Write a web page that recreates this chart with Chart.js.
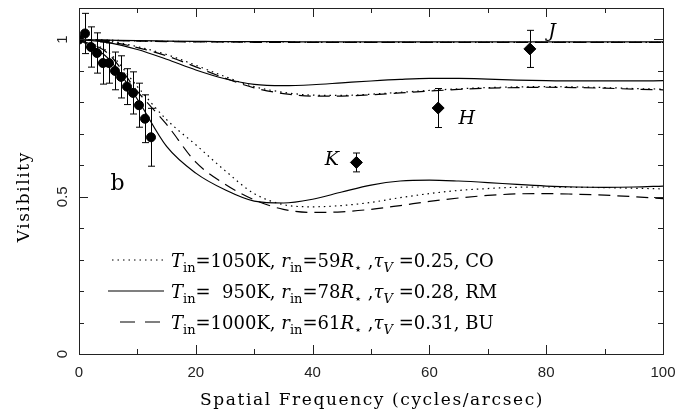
<!DOCTYPE html>
<html>
<head>
<meta charset="utf-8">
<script src="https://cdn.jsdelivr.net/npm/chart.js@4.4.1/dist/chart.umd.min.js"></script>
<style>
  html, body { margin: 0; padding: 0; background: #fff; }
  #chart { display: block; }
</style>
</head>
<body>
<canvas id="chart" width="696" height="417"></canvas>
<script>
// ---- datos ----
const freqModel = [0, 5, 10, 15, 20, 25, 30, 35, 40, 45, 50, 55, 60, 65, 70, 75, 80, 85, 90, 95, 100];

// banda J
const jSolid  = [1, 0.998, 0.996, 0.995, 0.994, 0.993, 0.993, 0.993, 0.992, 0.992, 0.992, 0.992, 0.992, 0.992, 0.992, 0.992, 0.992, 0.992, 0.992, 0.992, 0.992];
const jDotted = [1, 0.998, 0.995, 0.994, 0.993, 0.992, 0.992, 0.992, 0.991, 0.991, 0.991, 0.991, 0.991, 0.991, 0.991, 0.991, 0.991, 0.991, 0.991, 0.991, 0.991];
const jDashed = [1, 0.997, 0.995, 0.993, 0.992, 0.992, 0.991, 0.991, 0.991, 0.991, 0.991, 0.991, 0.991, 0.991, 0.991, 0.991, 0.991, 0.991, 0.991, 0.991, 0.991];

// banda H
const hSolid  = [1, 0.99, 0.968, 0.937, 0.903, 0.875, 0.857, 0.853, 0.856, 0.862, 0.868, 0.873, 0.876, 0.876, 0.874, 0.871, 0.869, 0.868, 0.868, 0.868, 0.869];
const hDotted = [1, 0.995, 0.977, 0.952, 0.918, 0.882, 0.85, 0.832, 0.823, 0.822, 0.826, 0.832, 0.838, 0.843, 0.847, 0.849, 0.85, 0.849, 0.847, 0.844, 0.842];
const hDashed = [1, 0.993, 0.974, 0.948, 0.913, 0.877, 0.846, 0.828, 0.82, 0.82, 0.824, 0.83, 0.836, 0.841, 0.845, 0.847, 0.848, 0.847, 0.845, 0.842, 0.84];

// banda K
const kSolid  = [1, 0.94, 0.81, 0.66, 0.575, 0.522, 0.486, 0.48, 0.492, 0.515, 0.537, 0.55, 0.553, 0.55, 0.545, 0.539, 0.534, 0.531, 0.53, 0.531, 0.534];
const kDotted = [1, 0.96, 0.85, 0.745, 0.665, 0.583, 0.51, 0.475, 0.468, 0.472, 0.482, 0.497, 0.51, 0.52, 0.526, 0.53, 0.531, 0.53, 0.529, 0.527, 0.525];
const kDashed = [1, 0.955, 0.835, 0.73, 0.61, 0.54, 0.49, 0.46, 0.45, 0.452, 0.46, 0.472, 0.485, 0.496, 0.504, 0.509, 0.51, 0.508, 0.505, 0.5, 0.494];

// puntos medidos (circulos)
const dotFreq = [0, 1.03, 2.05, 3.08, 4.1, 5.13, 6.16, 7.2, 8.22, 9.25, 10.27, 11.3, 12.33];
const dotVis  = [1.0, 1.019, 0.976, 0.957, 0.925, 0.925, 0.9, 0.881, 0.85, 0.83, 0.791, 0.748, 0.689];
const dotErr  = [0, 0.064, 0.064, 0.064, 0.067, 0.064, 0.06, 0.067, 0.057, 0.067, 0.07, 0.076, 0.092];

// puntos J, H, K (rombos)
const bandNames = ['K', 'H', 'J'];
const bandFreq  = [47.5, 61.5, 77.2];
const bandVis   = [0.609, 0.782, 0.97];
const bandErr   = [0.03, 0.062, 0.059];

const xTicks = [0, 20, 40, 60, 80, 100];
const yLabels = [0, 0.5, 1];
const xTitle = 'Spatial Frequency (cycles/arcsec)';
const yTitle = 'Visibility';

const SERIF = '"DejaVu Serif", serif';
const SANS = '"Liberation Sans", sans-serif';

const toXY = (xs, ys) => xs.map((x, i) => ({ x: x, y: ys[i] }));

const lineDs = (ys, dash) => ({
    data: toXY(freqModel, ys),
    showLine: true,
    borderColor: '#000',
    borderWidth: 1.2,
    borderDash: dash,
    pointRadius: 0,
    cubicInterpolationMode: 'monotone',
    fill: false
});

const DOT = [1.5, 4];
const DASH = [12, 7];

// barras de error
const errorBars = {
    id: 'errorBars',
    afterDatasetsDraw(chart) {
        const { ctx, scales: { x, y } } = chart;
        ctx.save();
        ctx.strokeStyle = '#000';
        ctx.lineWidth = 1;
        const draw = (xs, ys, es) => {
            xs.forEach((fx, i) => {
                if (!es[i]) return;
                const px = Math.round(x.getPixelForValue(fx)) + 0.5;
                const top = y.getPixelForValue(ys[i] + es[i]);
                const bot = y.getPixelForValue(ys[i] - es[i]);
                ctx.beginPath();
                ctx.moveTo(px, top); ctx.lineTo(px, bot);
                ctx.moveTo(px - 3.5, top); ctx.lineTo(px + 3.5, top);
                ctx.moveTo(px - 3.5, bot); ctx.lineTo(px + 3.5, bot);
                ctx.stroke();
            });
        };
        draw(dotFreq, dotVis, dotErr);
        draw(bandFreq, bandVis, bandErr);
        ctx.restore();
    }
};

// texto con subindices
function drawRich(ctx, x, y, parts) {
    parts.forEach(p => {
        const size = p.sub ? 13 : 18;
        ctx.font = (p.italic ? 'italic ' : '') + size + 'px ' + (p.sym ? '"DejaVu Sans", sans-serif' : SERIF);
        const dy = p.sub ? 5 : 0;
        ctx.fillText(p.t, x, y + dy);
        x += ctx.measureText(p.t).width;
    });
}

// marco, ticks interiores, titulos, etiquetas y leyenda
const decor = {
    id: 'decor',
    afterDraw(chart) {
        const { ctx, chartArea: a, scales: { x, y } } = chart;
        ctx.save();
        ctx.strokeStyle = '#222';
        ctx.lineWidth = 1;
        ctx.strokeRect(Math.round(a.left) + 0.5, Math.round(a.top) + 0.5,
            Math.round(a.right - a.left), Math.round(a.bottom - a.top));
        ctx.beginPath();
        for (let v = 0; v <= 100; v += 10) {
            const px = Math.round(x.getPixelForValue(v)) + 0.5;
            const len = v % 20 === 0 ? 9 : 5;
            ctx.moveTo(px, a.bottom); ctx.lineTo(px, a.bottom - len);
            ctx.moveTo(px, a.top); ctx.lineTo(px, a.top + len);
        }
        for (let i = 0; i <= 11; i++) {
            const py = Math.round(y.getPixelForValue(i / 10)) + 0.5;
            const len = i % 5 === 0 ? 9 : 5;
            ctx.moveTo(a.left, py); ctx.lineTo(a.left + len, py);
            ctx.moveTo(a.right, py); ctx.lineTo(a.right - len, py);
        }
        ctx.stroke();

        // titulos de ejes (letra ancha como el original)
        ctx.fillStyle = '#000';
        ctx.textAlign = 'center';
        ctx.textBaseline = 'middle';
        ctx.font = '17px ' + SERIF;
        ctx.letterSpacing = '1.6px';
        ctx.fillText(xTitle, (a.left + a.right) / 2 + 1, 401);
        ctx.save();
        ctx.translate(25, y.getPixelForValue(0.5));
        ctx.rotate(-Math.PI / 2);
        ctx.fillText(yTitle, 0, 0);
        ctx.restore();
        ctx.letterSpacing = '0px';

        // letras de las bandas y panel
        ctx.font = 'italic 19px ' + SERIF;
        ctx.fillText(bandNames[0], x.getPixelForValue(43.3), y.getPixelForValue(0.618));
        ctx.fillText(bandNames[1], x.getPixelForValue(66.4), y.getPixelForValue(0.748));
        ctx.fillText(bandNames[2], x.getPixelForValue(81), y.getPixelForValue(1.022));
        ctx.font = '22px ' + SERIF;
        ctx.fillText('b', x.getPixelForValue(6.6), y.getPixelForValue(0.54));

        // leyenda
        ctx.textAlign = 'left';
        ctx.textBaseline = 'alphabetic';
        const rows = [
            { dash: DOT, x0: 112, y: 267, temp: '=1050K, ', r: '=59', tau: ' =0.25, CO' },
            { dash: [], x0: 108, y: 298, temp: '=\u2007950K, ', r: '=78', tau: ' =0.28, RM' },
            { dash: [15, 10], x0: 120, y: 329, temp: '=1000K, ', r: '=61', tau: ' =0.31, BU' }
        ];
        rows.forEach(r => {
            ctx.beginPath();
            ctx.setLineDash(r.dash);
            ctx.lineWidth = 1.2;
            ctx.strokeStyle = '#000';
            ctx.moveTo(r.x0, r.y - 7);
            ctx.lineTo(164, r.y - 7);
            ctx.stroke();
            ctx.setLineDash([]);
            drawRich(ctx, 171, r.y, [
                { t: 'T', italic: true },
                { t: 'in', sub: true },
                { t: r.temp },
                { t: 'r', italic: true },
                { t: 'in', sub: true },
                { t: r.r },
                { t: 'R', italic: true },
                { t: '\u22C6', sub: true, sym: true },
                { t: ' ,' },
                { t: '\u03C4', italic: true },
                { t: 'V', sub: true, italic: true },
                { t: r.tau }
            ]);
        });
        ctx.restore();
    }
};

const datasets = [
    {
        data: toXY(dotFreq, dotVis),
        pointStyle: 'circle',
        pointRadius: 4.5,
        pointBackgroundColor: '#000',
        pointBorderColor: '#000',
        showLine: false
    },
    {
        data: toXY(bandFreq, bandVis),
        pointStyle: 'rectRot',
        pointRadius: 6,
        pointBackgroundColor: '#000',
        pointBorderColor: '#000',
        showLine: false
    },
    lineDs(jSolid, []), lineDs(jDotted, DOT), lineDs(jDashed, DASH),
    lineDs(hSolid, []), lineDs(hDotted, DOT), lineDs(hDashed, DASH),
    lineDs(kSolid, []), lineDs(kDotted, DOT), lineDs(kDashed, DASH)
];

new Chart(document.getElementById('chart').getContext('2d'), {
    type: 'scatter',
    data: { datasets: datasets },
    options: {
        responsive: false,
        animation: false,
        devicePixelRatio: 1,
        layout: { padding: { top: 8, right: 33, left: 0, bottom: 0 } },
        plugins: { legend: { display: false }, tooltip: { enabled: false } },
        scales: {
            x: {
                type: 'linear', min: 0, max: 100,
                afterFit: s => { s.height = 63; s.paddingLeft = 0; s.paddingRight = 0; },
                afterBuildTicks: s => { s.ticks = xTicks.map(v => ({ value: v })); },
                grid: { display: false, drawTicks: false },
                border: { display: false },
                ticks: { font: { family: SANS, size: 15 }, color: '#222', padding: 10, maxRotation: 0 }
            },
            y: {
                type: 'linear', min: 0, max: 1.1,
                afterFit: s => { s.width = 79; s.paddingTop = 0; s.paddingBottom = 0; },
                afterBuildTicks: s => { s.ticks = yLabels.map(v => ({ value: v })); },
                grid: { display: false, drawTicks: false },
                border: { display: false },
                ticks: { font: { family: SANS, size: 15 }, color: '#222', padding: 6,
                    minRotation: 90, maxRotation: 90, crossAlign: 'center', autoSkip: false,
                    callback: v => String(Math.round(v * 10) / 10) }
            }
        }
    },
    plugins: [errorBars, decor]
});
</script>
</body>
</html>
